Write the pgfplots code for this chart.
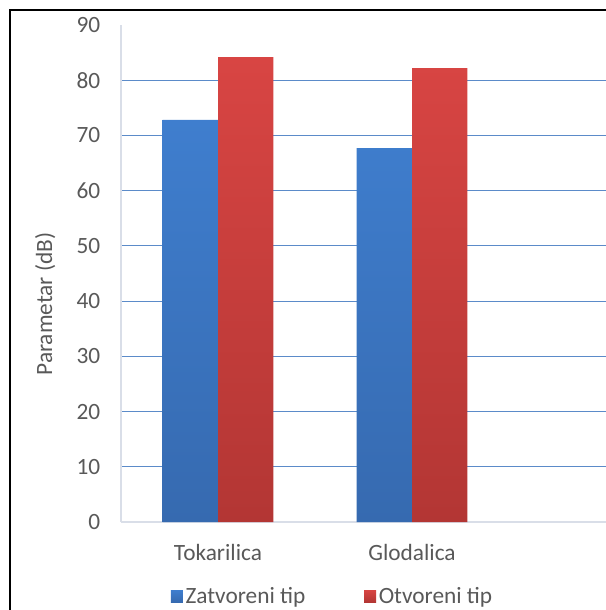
\documentclass[border=0pt]{standalone}
\usepackage{pgfplots}
\pgfplotsset{compat=1.18}
\usepackage{fontspec}
\setmainfont{Carlito}

\definecolor{txt}{HTML}{595959}
\definecolor{gridblue}{HTML}{5B8BC9}
\definecolor{axgrey}{HTML}{D9DEE8}
\definecolor{bluetop}{HTML}{3F7ECE}
\definecolor{bluebot}{HTML}{366AB0}
\definecolor{redtop}{HTML}{D84543}
\definecolor{redbot}{HTML}{B33634}

\begin{document}
\begin{tikzpicture}
\useasboundingbox (0pt,0pt) rectangle (454.5pt,-457.5pt);
% frame, right and bottom sides cut off in the reference
\draw[black, line width=1.6pt] (7.5pt,-457.5pt) -- (7.5pt,-7.5pt) -- (454.5pt,-7.5pt);

\begin{axis}[
  at={(90.75pt,-391.5pt)}, anchor=south west,
  scale only axis,
  width=363.75pt, height=372.75pt,
  ybar=0pt, bar width=41.6pt,
  xmin=-0.5, xmax=2.0,
  ymin=0, ymax=90,
  xtick={0,1}, xticklabels={Tokarilica,Glodalica},
  ytick={10,20,...,80},
  extra y ticks={0,90},
  extra y tick style={grid=none},
  ymajorgrids,
  grid style={gridblue, line width=0.75pt},
  axis line style={axgrey, line width=0.8pt},
  axis x line*=bottom, axis y line*=left,
  major tick length=0pt,
  tick label style={font=\fontsize{17.5}{20}\selectfont, text=txt},
  /pgf/number format/assume math mode=true,
  yticklabel style={xshift=-12pt},
  xticklabel style={yshift=-13pt},
  legend columns=2,
  legend style={at={(0.437,-0.149)}, anchor=center, draw=none, fill=none,
    font=\fontsize{17.5}{20}\selectfont, text=txt,
    /tikz/every even column/.append style={column sep=42pt}},
  legend image code/.code={\fill[#1] (0pt,-4.5pt) rectangle (9pt,4.5pt);},
  clip=false,
]
\addplot[draw=none, top color=bluetop, bottom color=bluebot] coordinates {(0,72.8) (1,67.7)};
\addlegendentry{Zatvoreni tip}
\addplot[draw=none, top color=redtop, bottom color=redbot] coordinates {(0,84.2) (1,82.2)};
\addlegendentry{Otvoreni tip}
\end{axis}

\node[rotate=90, text=txt, font=\fontsize{17.5}{20}\selectfont] at (34pt,-228pt) {Parametar (dB)};
\end{tikzpicture}
\end{document}
